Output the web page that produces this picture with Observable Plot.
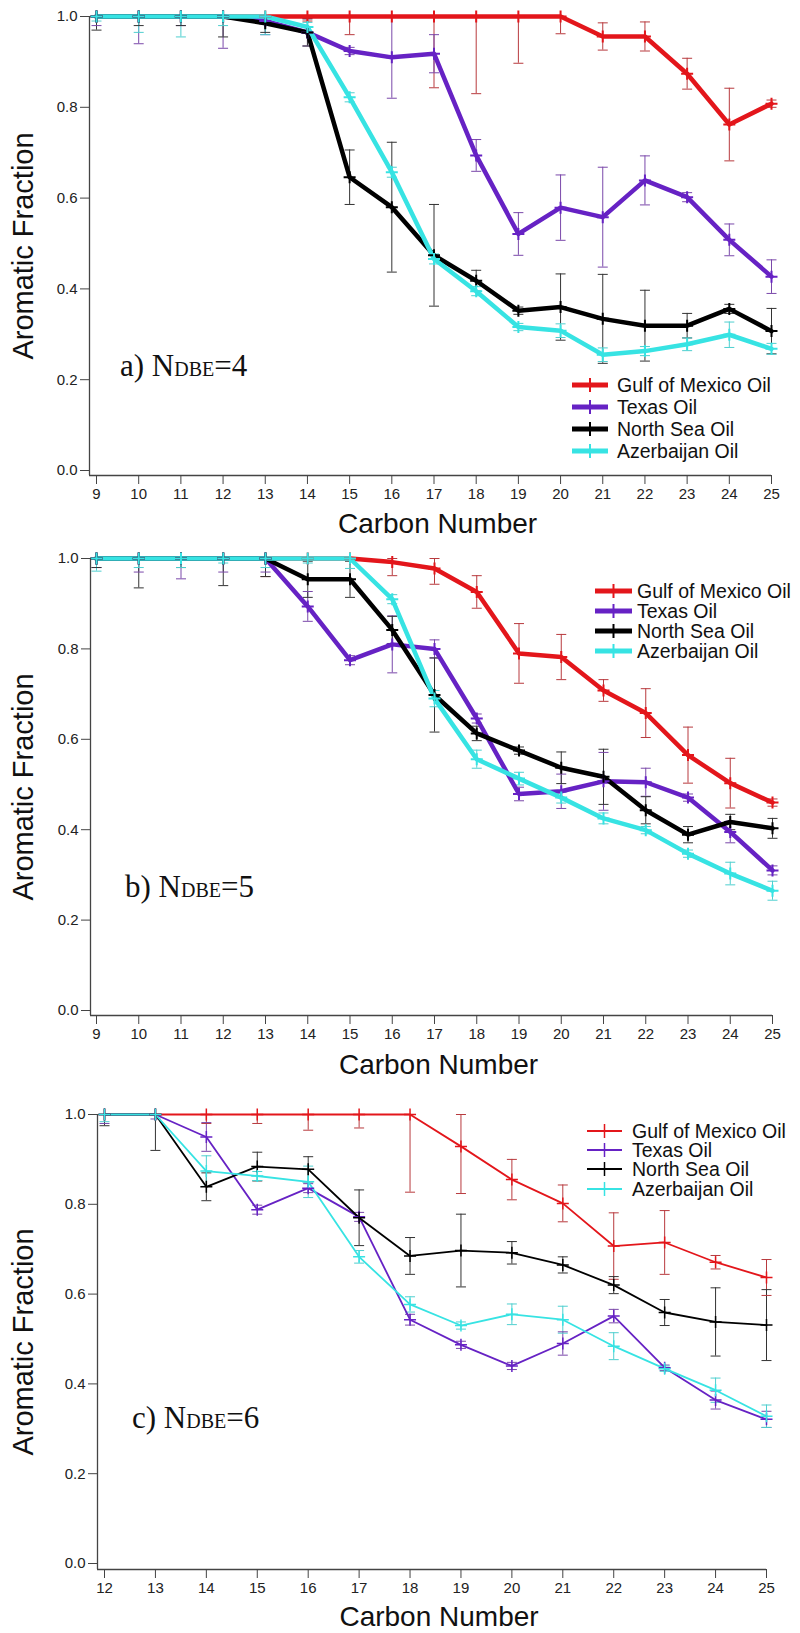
<!DOCTYPE html>
<html><head><meta charset="utf-8">
<script src="https://cdn.jsdelivr.net/npm/d3@7"></script>
<script src="https://cdn.jsdelivr.net/npm/@observablehq/plot@0.6"></script>
<style>
body{margin:0;background:#fff;}
#chart{width:800px;}
#chart svg{display:block;}
</style></head><body><div id="chart"></div>
<script>
const seriesNames = ["Gulf of Mexico Oil", "Texas Oil", "North Sea Oil", "Azerbaijan Oil"];
const seriesColors = ["#e3161b", "#6622c4", "#000000", "#37e3e3"];
const errorColors = ["#b83a3e", "#7a48aa", "#333333", "#4fcfcf"];
const yTicks = [0, 0.2, 0.4, 0.6, 0.8, 1.0];
const xAxisTitle = "Carbon Number";
const yAxisTitle = "Aromatic Fraction";

// Panel a) N_DBE = 4
const carbonA = [9, 10, 11, 12, 13, 14, 15, 16, 17, 18, 19, 20, 21, 22, 23, 24, 25];
const gulfA  = [1, 1, 1, 1, 1, 1, 1, 1, 1, 1, 1, 1, 0.956, 0.956, 0.874, 0.762, 0.808];
const gulfAErr = [0, 0, 0, 0, 0.01, 0.01, 0.04, 0, 0.157, 0.17, 0.103, 0.038, 0.03, 0.032, 0.034, 0.08, 0.008];
const texasA = [1, 1, 1, 1, 0.99, 0.965, 0.924, 0.91, 0.918, 0.694, 0.521, 0.579, 0.558, 0.639, 0.602, 0.508, 0.427];
const texasAErr = [0.02, 0.06, 0.02, 0.07, 0.03, 0.03, 0.008, 0.09, 0.042, 0.035, 0.047, 0.072, 0.11, 0.054, 0.01, 0.035, 0.037];
const northA = [1, 1, 1, 1, 0.985, 0.965, 0.646, 0.58, 0.474, 0.418, 0.352, 0.36, 0.334, 0.319, 0.319, 0.356, 0.307];
const northAErr = [0.03, 0.02, 0.02, 0.045, 0.02, 0.03, 0.06, 0.143, 0.112, 0.023, 0.008, 0.073, 0.098, 0.078, 0.027, 0.01, 0.05];
const azerA = [1, 1, 1, 1, 1, 0.977, 0.822, 0.657, 0.466, 0.395, 0.316, 0.308, 0.255, 0.263, 0.278, 0.299, 0.268];
const azerAErr = [0.01, 0.035, 0.045, 0.02, 0.04, 0.01, 0.01, 0.011, 0.011, 0.01, 0.008, 0.015, 0.015, 0.01, 0.014, 0.028, 0.012];

// Panel b) N_DBE = 5
const carbonB = [9, 10, 11, 12, 13, 14, 15, 16, 17, 18, 19, 20, 21, 22, 23, 24, 25];
const gulfB  = [1, 1, 1, 1, 1, 1, 1, 0.992, 0.978, 0.926, 0.79, 0.782, 0.708, 0.658, 0.565, 0.503, 0.46];
const gulfBErr = [0, 0, 0, 0, 0.04, 0, 0, 0.03, 0.035, 0.036, 0.066, 0.05, 0.024, 0.054, 0.062, 0.055, 0.008];
const texasB = [1, 1, 1, 1, 1, 0.894, 0.775, 0.81, 0.8, 0.646, 0.479, 0.485, 0.507, 0.505, 0.471, 0.395, 0.31];
const texasBErr = [0.02, 0.03, 0.045, 0.03, 0.03, 0.033, 0.01, 0.063, 0.02, 0.01, 0.015, 0.038, 0.064, 0.031, 0.008, 0.024, 0.01];
const northB = [1, 1, 1, 1, 1, 0.954, 0.954, 0.842, 0.698, 0.613, 0.575, 0.537, 0.517, 0.443, 0.389, 0.417, 0.403];
const northBErr = [0.02, 0.065, 0.02, 0.06, 0.04, 0.04, 0.04, 0.03, 0.082, 0.016, 0.008, 0.035, 0.061, 0.03, 0.018, 0.017, 0.022];
const azerB = [1, 1, 1, 1, 1, 1, 1, 0.91, 0.69, 0.556, 0.513, 0.471, 0.425, 0.399, 0.347, 0.303, 0.265];
const azerBErr = [0.028, 0.02, 0.02, 0.01, 0.02, 0.01, 0.022, 0.01, 0.018, 0.02, 0.014, 0.012, 0.012, 0.008, 0.008, 0.025, 0.021];

// Panel c) N_DBE = 6
const carbonC = [12, 13, 14, 15, 16, 17, 18, 19, 20, 21, 22, 23, 24, 25];
const gulfC  = [1, 1, 1, 1, 1, 1, 1, 0.929, 0.855, 0.802, 0.707, 0.715, 0.671, 0.637];
const gulfCErr = [0, 0, 0.02, 0.02, 0.035, 0.03, 0.173, 0.105, 0.045, 0.041, 0.074, 0.071, 0.015, 0.04];
const texasC = [1, 1, 0.95, 0.788, 0.836, 0.772, 0.543, 0.487, 0.44, 0.49, 0.551, 0.436, 0.364, 0.321];
const texasCErr = [0.02, 0.01, 0.032, 0.01, 0.01, 0.01, 0.012, 0.008, 0.008, 0.026, 0.015, 0.006, 0.02, 0.018];
const northC = [1, 1, 0.839, 0.884, 0.878, 0.77, 0.685, 0.697, 0.692, 0.665, 0.62, 0.559, 0.538, 0.531];
const northCErr = [0.025, 0.08, 0.031, 0.032, 0.028, 0.062, 0.041, 0.081, 0.025, 0.018, 0.019, 0.029, 0.076, 0.079];
const azerC = [1, 1, 0.874, 0.863, 0.85, 0.683, 0.577, 0.53, 0.555, 0.543, 0.484, 0.434, 0.386, 0.328];
const azerCErr = [0.016, 0, 0.034, 0.01, 0.035, 0.014, 0.017, 0.008, 0.023, 0.03, 0.03, 0.006, 0.027, 0.025];

const panels = [
  {label: "a) ", n: "4", carbon: carbonA, values: [gulfA, texasA, northA, azerA], errs: [gulfAErr, texasAErr, northAErr, azerAErr],
   H: 542, mL: 89, xr: [96, 771], yr: [470, 16], axisY: 475, titleDy: 49, lw: 4.5,
   ann: [120, 376], leg: {x0: 572, x1: 608, tx: 617, rows: [385, 407, 429, 451], lw: 5}},
  {label: "b) ", n: "5", carbon: carbonB, values: [gulfB, texasB, northB, azerB], errs: [gulfBErr, texasBErr, northBErr, azerBErr],
   H: 556, mL: 90, xr: [96, 772], yr: [468, 16], axisY: 473, titleDy: 50, lw: 4.5,
   ann: [125, 355], leg: {x0: 595, x1: 632, tx: 637, rows: [49, 69, 89, 109], lw: 5}},
  {label: "c) ", n: "6", carbon: carbonC, values: [gulfC, texasC, northC, azerC], errs: [gulfCErr, texasCErr, northCErr, azerCErr],
   H: 535, mL: 97, xr: [104, 766], yr: [465, 16], axisY: 471, titleDy: 48, lw: 1.8,
   ann: [132, 330], leg: {x0: 587, x1: 622, tx: 632, rows: [33, 52, 71, 91], lw: 2}}
];

const plusSym = {draw(ctx) { const h = 6; ctx.moveTo(-h, 0); ctx.lineTo(h, 0); ctx.moveTo(0, -h); ctx.lineTo(0, h); }};
const capSym = {draw(ctx) { const h = 5; ctx.moveTo(-h, 0); ctx.lineTo(h, 0); }};

const root = document.getElementById("chart");
const sans = "'Liberation Sans', Arial, Helvetica, sans-serif";
const serif = "'Liberation Serif', 'Times New Roman', serif";
const errColorOf = d => errorColors[seriesNames.indexOf(d.series)];

for (const p of panels) {
  const rows = [];
  p.values.forEach((vals, s) => {
    vals.forEach((v, i) => {
      const e = p.errs[s][i];
      rows.push({series: seriesNames[s], c: p.carbon[i], v, e, lo: Math.max(0, v - e), hi: Math.min(1, v + e)});
    });
  });
  const errRows = rows.filter(d => d.e > 0);
  const lo = errRows.filter(d => d.lo < d.v);
  const hi = errRows.filter(d => d.hi > d.v);
  const dx = p.mL - p.xr[0];
  const dy = p.axisY - p.yr[0];
  const chart = Plot.plot({
    width: 800,
    height: p.H,
    marginLeft: p.mL,
    marginRight: 800 - p.xr[1],
    marginTop: p.yr[1],
    marginBottom: p.H - p.axisY,
    style: {fontFamily: sans, fontSize: "15px", color: "#222", background: "#fff"},
    x: {domain: [p.carbon[0], p.carbon[p.carbon.length - 1]], range: p.xr},
    y: {domain: [0, 1], range: p.yr},
    color: {domain: seriesNames, range: seriesColors},
    marks: [
      Plot.ruleX(errRows, {x: "c", y1: "lo", y2: "hi", stroke: errColorOf, strokeWidth: 1}),
      Plot.dot(lo, {x: "c", y: "lo", symbol: capSym, stroke: errColorOf, strokeWidth: 1}),
      Plot.dot(hi, {x: "c", y: "hi", symbol: capSym, stroke: errColorOf, strokeWidth: 1}),
      Plot.line(rows, {x: "c", y: "v", z: "series", stroke: "series", strokeWidth: p.lw, strokeLinejoin: "round"}),
      Plot.dot(rows, {x: "c", y: "v", symbol: plusSym, stroke: "series", strokeWidth: p.lw > 3 ? 2 : 1.5}),
      Plot.ruleX([p.carbon[0]], {dx: dx, stroke: "#444", strokeWidth: 1.3}),
      Plot.ruleY([0], {dy: dy, stroke: "#444", strokeWidth: 1.3}),
      Plot.axisY({ticks: yTicks, tickFormat: d3.format(".1f"), tickSize: 9, tickPadding: 3, label: null, stroke: "#444"}),
      Plot.axisX({ticks: p.carbon, tickFormat: d => String(d), tickSize: 9, tickPadding: 4, label: null, stroke: "#444"}),
      Plot.text([yAxisTitle], {text: d => d, frameAnchor: "left", textAnchor: "middle", lineAnchor: "middle", dx: 23 - p.mL, rotate: -90, fontSize: 29, fill: "#111"}),
      Plot.text([xAxisTitle], {text: d => d, frameAnchor: "bottom", textAnchor: "middle", lineAnchor: "middle", dx: 7, dy: p.titleDy, fontSize: 28, fill: "#111"})
    ]
  });
  const svg = d3.select(chart);
  const t = svg.append("text").attr("x", p.ann[0]).attr("y", p.ann[1]).attr("text-anchor", "start")
    .attr("font-family", serif).attr("font-size", 31).attr("fill", "#111");
  t.append("tspan").text(p.label + "N");
  t.append("tspan").attr("font-size", 20).text("DBE");
  t.append("tspan").text("=" + p.n);

  const lg = svg.append("g").attr("text-anchor", "start");
  seriesNames.forEach((name, s) => {
    const y = p.leg.rows[s];
    lg.append("line").attr("x1", p.leg.x0).attr("x2", p.leg.x1).attr("y1", y).attr("y2", y)
      .attr("stroke", seriesColors[s]).attr("stroke-width", p.leg.lw);
    const mx = (p.leg.x0 + p.leg.x1) / 2;
    lg.append("line").attr("x1", mx).attr("x2", mx).attr("y1", y - 7).attr("y2", y + 7)
      .attr("stroke", seriesColors[s]).attr("stroke-width", p.lw > 3 ? 2 : 1.5);
    lg.append("text").attr("x", p.leg.tx).attr("y", y).attr("dy", "0.36em").attr("text-anchor", "start")
      .attr("font-family", sans).attr("font-size", 19.5).attr("fill", "#111").text(name);
  });
  root.appendChild(chart);
}
</script>
</body></html>
